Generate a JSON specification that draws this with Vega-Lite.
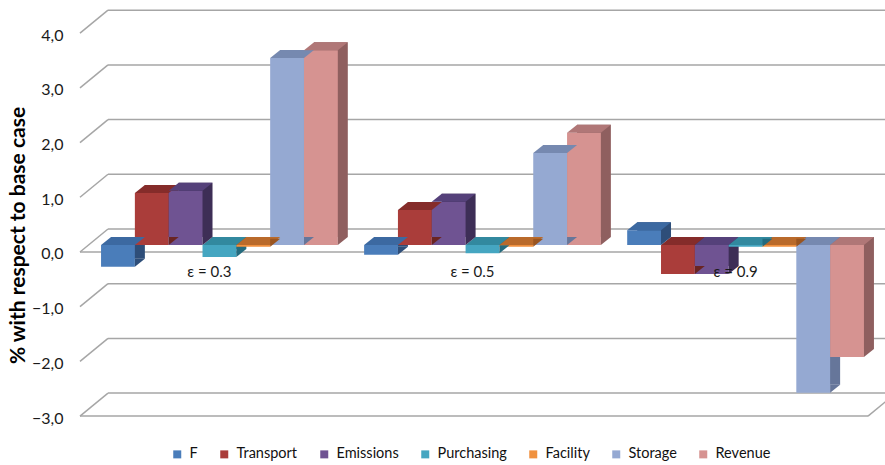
{
  "$schema": "https://vega.github.io/schema/vega-lite/v6.json",
  "width": 805,
  "height": 408,
  "autosize": {"type": "none"},
  "padding": {"left": 80, "top": 10, "right": 0, "bottom": 47},
  "background": "white",
  "config": {
    "view": {"stroke": null},
    "font": "Lato",
    "text": {"font": "Lato"}
  },
  "datasets": {
    "bars": [
      {"eps": "ε = 0.3", "series": "F", "value": -0.40},
      {"eps": "ε = 0.3", "series": "Transport", "value": 0.95},
      {"eps": "ε = 0.3", "series": "Emissions", "value": 0.99},
      {"eps": "ε = 0.3", "series": "Purchasing", "value": -0.22},
      {"eps": "ε = 0.3", "series": "Facility", "value": -0.03},
      {"eps": "ε = 0.3", "series": "Storage", "value": 3.42},
      {"eps": "ε = 0.3", "series": "Revenue", "value": 3.56},
      {"eps": "ε = 0.5", "series": "F", "value": -0.18},
      {"eps": "ε = 0.5", "series": "Transport", "value": 0.64},
      {"eps": "ε = 0.5", "series": "Emissions", "value": 0.79},
      {"eps": "ε = 0.5", "series": "Purchasing", "value": -0.15},
      {"eps": "ε = 0.5", "series": "Facility", "value": -0.03},
      {"eps": "ε = 0.5", "series": "Storage", "value": 1.68},
      {"eps": "ε = 0.5", "series": "Revenue", "value": 2.05},
      {"eps": "ε = 0.9", "series": "F", "value": 0.27},
      {"eps": "ε = 0.9", "series": "Transport", "value": -0.53},
      {"eps": "ε = 0.9", "series": "Emissions", "value": -0.53},
      {"eps": "ε = 0.9", "series": "Purchasing", "value": -0.03},
      {"eps": "ε = 0.9", "series": "Facility", "value": -0.03},
      {"eps": "ε = 0.9", "series": "Storage", "value": -2.70},
      {"eps": "ε = 0.9", "series": "Revenue", "value": -2.05}
    ],
    "grid": [
      {"v": -3}, {"v": -2}, {"v": -1}, {"v": 0}, {"v": 1}, {"v": 2}, {"v": 3}, {"v": 4}
    ],
    "groups": [
      {"eps": "ε = 0.3"}, {"eps": "ε = 0.5"}, {"eps": "ε = 0.9"}
    ]
  },
  "layer": [
    {
      "data": {"name": "grid"},
      "mark": {"type": "rule", "color": "#a6a6a6", "strokeWidth": 1.5, "yOffset": -16, "y2Offset": -16},
      "encoding": {
        "y": {
          "field": "v",
          "type": "quantitative",
          "scale": {"domain": [-3.163, 4.296], "nice": false, "zero": false},
          "axis": {
            "values": [-3, -2, -1, 0, 1, 2, 3, 4],
            "labelExpr": "replace(format(datum.value, '.1f'), '.', ',')",
            "labelOffset": 9,
            "labelPadding": 17,
            "labelFontSize": 16,
            "labelColor": "#1a1a1a",
            "ticks": false,
            "domain": false,
            "grid": false,
            "title": "% with respect to base case",
            "titleFontSize": 21,
            "titleFontWeight": "bold",
            "titleColor": "#000000",
            "titleAngle": -90,
            "titleAlign": "center",
            "titleBaseline": "middle",
            "titleX": -62,
            "titleY": 225
          }
        },
        "x": {"value": 28},
        "x2": {"value": "width"}
      }
    },
    {
      "data": {"name": "grid"},
      "mark": {"type": "rule", "color": "#a6a6a6", "strokeWidth": 1.5, "yOffset": 7, "y2Offset": -16},
      "encoding": {
        "y": {"field": "v", "type": "quantitative"},
        "y2": {"field": "v"},
        "x": {"value": 0},
        "x2": {"value": 28}
      }
    },
    {
      "data": {"name": "grid"},
      "transform": [{"filter": "datum.v == 0 || datum.v == -3"}],
      "mark": {"type": "rule", "color": "#a6a6a6", "strokeWidth": 1.5, "yOffset": 7, "y2Offset": 7},
      "encoding": {
        "y": {"field": "v", "type": "quantitative"},
        "x": {"value": 0},
        "x2": {"value": 788}
      }
    },
    {
      "data": {"name": "grid"},
      "transform": [{"filter": "datum.v == -3"}],
      "mark": {"type": "rule", "color": "#a6a6a6", "strokeWidth": 1.5, "yOffset": 7, "y2Offset": -16},
      "encoding": {
        "y": {"field": "v", "type": "quantitative"},
        "y2": {"field": "v"},
        "x": {"value": 788},
        "x2": {"value": 816}
      }
    },
    {
      "description": "side faces: the box pushed back in depth",
      "layer": [
        {
          "data": {"name": "bars"},
          "mark": {"type": "bar", "yOffset": -8, "y2Offset": -8},
          "encoding": {
            "x": {"field": "eps", "type": "nominal", "sort": null, "axis": null,
                  "scale": {"paddingInner": 0.1, "paddingOuter": 0.08, "round": false}},
            "xOffset": {"field": "series", "type": "nominal",
                        "sort": ["F", "Transport", "Emissions", "Purchasing", "Facility", "Storage", "Revenue"],
                        "scale": {"range": [10, 246.76], "paddingInner": 0, "paddingOuter": 0}},
            "y": {"field": "value", "type": "quantitative"},
            "y2": {"datum": 0},
            "color": {"field": "series", "type": "nominal", "legend": null,
                      "scale": {"domain": ["F", "Transport", "Emissions", "Purchasing", "Facility", "Storage", "Revenue"],
                                "range": ["#2e4e79", "#6a2422", "#3d2e56", "#246b7e", "#9a5520", "#66769a", "#8f5f5f"]}}
          }
        }
      ]
    },
    {
      "description": "front faces, top faces and the lower corner of each side face",
      "layer": [
        {
          "data": {"name": "bars"},
          "mark": {"type": "bar"},
          "encoding": {
            "x": {"field": "eps", "type": "nominal", "sort": null},
            "xOffset": {"field": "series", "type": "nominal",
                        "sort": ["F", "Transport", "Emissions", "Purchasing", "Facility", "Storage", "Revenue"],
                        "scale": {"paddingInner": 0, "paddingOuter": 0}},
            "y": {"field": "value", "type": "quantitative"},
            "y2": {"datum": 0},
            "color": {"field": "series", "type": "nominal", "title": null,
                      "scale": {"domain": ["F", "Transport", "Emissions", "Purchasing", "Facility", "Storage", "Revenue"],
                                "range": ["#4a7dba", "#aa3d3a", "#6f5392", "#45a6c1", "#f0913f", "#95a9d2", "#d69391"]},
                      "legend": {
                        "orient": "none", "direction": "horizontal", "legendX": 90, "legendY": 437,
                        "symbolType": "square", "symbolSize": 64, "symbolStrokeWidth": 0,
                        "labelFontSize": 14.5, "labelColor": "#111111", "labelOffset": 5, "columnPadding": 19
                      }}
          }
        },
        {
          "data": {"name": "bars"},
          "transform": [{"filter": "datum.value >= 0"}],
          "mark": {"type": "point", "filled": true, "opacity": 1, "strokeWidth": 0, "size": 4,
                   "shape": "M-16.91,0L16.91,0L26.91,-8L-6.91,-8Z"},
          "encoding": {
            "x": {"field": "eps", "type": "nominal", "sort": null},
            "xOffset": {"field": "series", "type": "nominal",
                        "sort": ["F", "Transport", "Emissions", "Purchasing", "Facility", "Storage", "Revenue"]},
            "y": {"field": "value", "type": "quantitative"},
            "fill": {"field": "series", "type": "nominal", "legend": null,
                     "scale": {"domain": ["F", "Transport", "Emissions", "Purchasing", "Facility", "Storage", "Revenue"],
                               "range": ["#3c69a1", "#852c2a", "#55417a", "#32899f", "#b96a2b", "#7689b0", "#b07777"]}}
          }
        },
        {
          "data": {"name": "bars"},
          "transform": [{"filter": "datum.value < 0"}],
          "mark": {"type": "point", "filled": true, "opacity": 1, "strokeWidth": 0, "size": 4,
                   "shape": "M-16.91,0L16.91,0L26.91,-8L-6.91,-8Z"},
          "encoding": {
            "x": {"field": "eps", "type": "nominal", "sort": null},
            "xOffset": {"field": "series", "type": "nominal",
                        "sort": ["F", "Transport", "Emissions", "Purchasing", "Facility", "Storage", "Revenue"]},
            "y": {"datum": 0},
            "fill": {"field": "series", "type": "nominal", "legend": null,
                     "scale": {"domain": ["F", "Transport", "Emissions", "Purchasing", "Facility", "Storage", "Revenue"],
                               "range": ["#3c69a1", "#852c2a", "#55417a", "#32899f", "#b96a2b", "#7689b0", "#b07777"]}}
          }
        },
        {
          "data": {"name": "bars"},
          "transform": [{"filter": "datum.value >= 0"}],
          "mark": {"type": "point", "filled": true, "opacity": 1, "strokeWidth": 0, "size": 4,
                   "shape": "M16.91,0L16.91,-8L26.91,-8Z"},
          "encoding": {
            "x": {"field": "eps", "type": "nominal", "sort": null},
            "xOffset": {"field": "series", "type": "nominal",
                        "sort": ["F", "Transport", "Emissions", "Purchasing", "Facility", "Storage", "Revenue"]},
            "y": {"datum": 0},
            "fill": {"field": "series", "type": "nominal", "legend": null,
                     "scale": {"domain": ["F", "Transport", "Emissions", "Purchasing", "Facility", "Storage", "Revenue"],
                               "range": ["#2e4e79", "#6a2422", "#3d2e56", "#246b7e", "#9a5520", "#66769a", "#8f5f5f"]}}
          }
        },
        {
          "data": {"name": "bars"},
          "transform": [{"filter": "datum.value < 0"}],
          "mark": {"type": "point", "filled": true, "opacity": 1, "strokeWidth": 0, "size": 4,
                   "shape": "M16.91,0L16.91,-8L26.91,-8Z"},
          "encoding": {
            "x": {"field": "eps", "type": "nominal", "sort": null},
            "xOffset": {"field": "series", "type": "nominal",
                        "sort": ["F", "Transport", "Emissions", "Purchasing", "Facility", "Storage", "Revenue"]},
            "y": {"field": "value", "type": "quantitative"},
            "fill": {"field": "series", "type": "nominal", "legend": null,
                     "scale": {"domain": ["F", "Transport", "Emissions", "Purchasing", "Facility", "Storage", "Revenue"],
                               "range": ["#2e4e79", "#6a2422", "#3d2e56", "#246b7e", "#9a5520", "#66769a", "#8f5f5f"]}}
          }
        }
      ],
      "resolve": {"scale": {"fill": "independent"}}
    },
    {
      "data": {"name": "groups"},
      "mark": {"type": "text", "fontSize": 15, "color": "#1a1a1a", "dx": -10, "dy": 27},
      "encoding": {
        "x": {"field": "eps", "type": "nominal", "sort": null},
        "y": {"datum": 0},
        "text": {"field": "eps"}
      }
    }
  ],
  "resolve": {"scale": {"color": "independent", "xOffset": "independent"}}
}
